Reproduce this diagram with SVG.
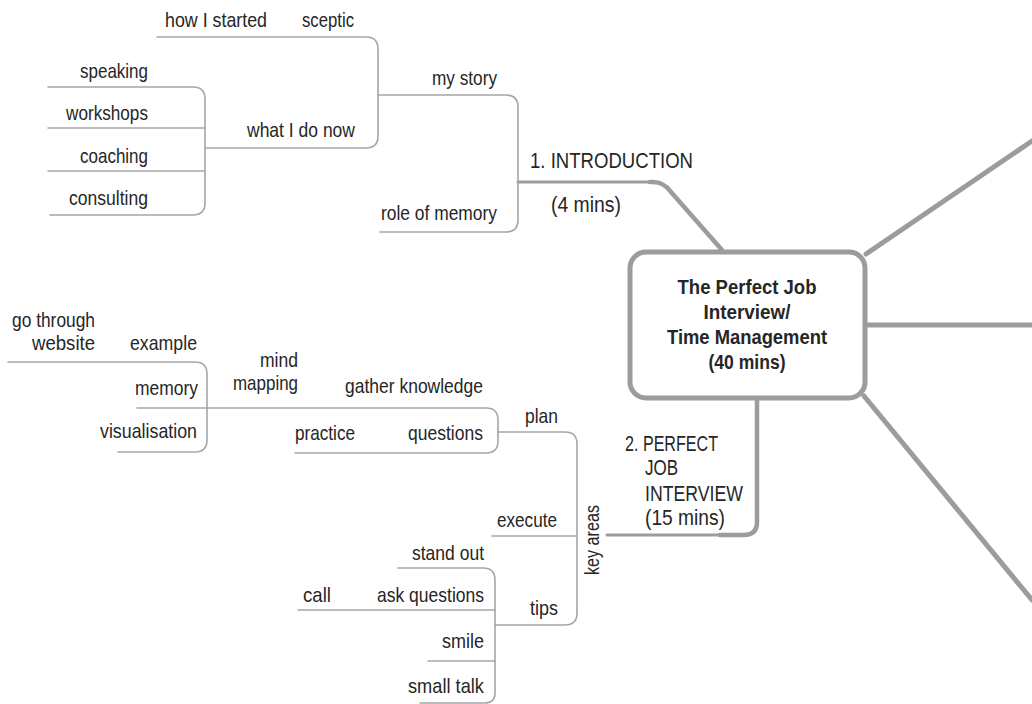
<svg xmlns="http://www.w3.org/2000/svg" width="1032" height="704" viewBox="0 0 1032 704">
<style>
text{font-family:"Liberation Sans",Arial,sans-serif;font-size:21px;fill:#262626}
.e{text-anchor:end}
.c{text-anchor:middle}
.b{font-weight:bold;font-size:21px}
.br{font-size:22px}
.thin{fill:none;stroke:#a6a6a6;stroke-width:1.6;stroke-linecap:round;stroke-linejoin:round}
.thick{fill:none;stroke:#9c9c9c;stroke-width:5;stroke-linecap:round;stroke-linejoin:round}
.mid{fill:none;stroke:#9c9c9c;stroke-width:3;stroke-linecap:round;stroke-linejoin:round}
</style>
<rect width="1032" height="704" fill="#ffffff"/>
<g id="connectors">
  <path class="mid" d="M518,182 H652"/>
  <path class="thick" style="stroke-width:4.5" d="M650,182 H653 Q664,182 671,192 L722,250"/>
  <path class="thick" d="M866,254 L1032,141"/>
  <path class="thick" d="M867,325 H1032"/>
  <path class="thick" d="M864,396 L1032,600"/>
  <path class="thick" style="stroke-width:4.5" d="M757,400 V522 Q757,535 744,535 H720"/>
  <path class="mid" d="M722,535 H607"/>
  <path class="thin" d="M380,232 H506 Q518,232 518,220 V107 Q518,95 506,95 H378"/>
  <path class="thin" d="M157,37 H366 Q378,37 378,49 V136 Q378,148 366,148 H205"/>
  <path class="thin" d="M48,87 H193 Q205,87 205,99 V203 Q205,215 193,215 H50"/>
  <path class="thin" d="M48,128 H205 M48,171 H205"/>
  <path class="thin" d="M8,362 H195 Q207,362 207,374 V440 Q207,452 195,452 H118"/>
  <path class="thin" d="M137,408 H486 Q498,408 498,420 V441 Q498,453 486,453 H295"/>
  <path class="thin" d="M498,432 H565 Q577,432 577,444 V613 Q577,625 565,625 H495"/>
  <path class="thin" d="M492,536 H577"/>
  <path class="thin" d="M398,568 H483 Q495,568 495,580 V693 Q495,703 485,703 H420"/>
  <path class="thin" d="M298,610 H495 M428,661 H495"/>
</g>
<g id="center">
  <rect x="630" y="252" width="235" height="146" rx="16" fill="#ffffff" stroke="#9c9c9c" stroke-width="5"/>
  <text class="b c" x="747" y="294" textLength="139" lengthAdjust="spacingAndGlyphs">The Perfect Job</text>
  <text class="b c" x="747" y="319" textLength="87" lengthAdjust="spacingAndGlyphs">Interview/</text>
  <text class="b c" x="747" y="344" textLength="160" lengthAdjust="spacingAndGlyphs">Time Management</text>
  <text class="b c" x="747" y="369" textLength="77" lengthAdjust="spacingAndGlyphs">(40 mins)</text>
</g>
<g id="introduction">
  <text class="br" x="530" y="168" textLength="163" lengthAdjust="spacingAndGlyphs">1. INTRODUCTION</text>
  <text class="br" x="551" y="212" textLength="70" lengthAdjust="spacingAndGlyphs">(4 mins)</text>
</g>
<g id="my-story"><text class="e" x="497" y="85" textLength="65" lengthAdjust="spacingAndGlyphs">my story</text></g>
<g id="role-of-memory"><text class="e" x="497" y="220" textLength="116" lengthAdjust="spacingAndGlyphs">role of memory</text></g>
<g id="how-i-started"><text class="e" x="267" y="27" textLength="102" lengthAdjust="spacingAndGlyphs">how I started</text></g>
<g id="sceptic"><text class="e" x="354" y="27" textLength="52" lengthAdjust="spacingAndGlyphs">sceptic</text></g>
<g id="what-i-do-now"><text class="e" x="355" y="137" textLength="108" lengthAdjust="spacingAndGlyphs">what I do now</text></g>
<g id="speaking"><text class="e" x="148" y="78" textLength="68" lengthAdjust="spacingAndGlyphs">speaking</text></g>
<g id="workshops"><text class="e" x="148" y="120" textLength="82" lengthAdjust="spacingAndGlyphs">workshops</text></g>
<g id="coaching"><text class="e" x="148" y="163" textLength="68" lengthAdjust="spacingAndGlyphs">coaching</text></g>
<g id="consulting"><text class="e" x="148" y="205" textLength="79" lengthAdjust="spacingAndGlyphs">consulting</text></g>
<g id="perfect-job-interview">
  <text class="br" x="625" y="451" textLength="93" lengthAdjust="spacingAndGlyphs">2. PERFECT</text>
  <text class="br" x="645" y="475" textLength="33" lengthAdjust="spacingAndGlyphs">JOB</text>
  <text class="br" x="645" y="501" textLength="98" lengthAdjust="spacingAndGlyphs">INTERVIEW</text>
  <text class="br" x="645" y="525" textLength="80" lengthAdjust="spacingAndGlyphs">(15 mins)</text>
</g>
<g id="key-areas"><text class="c" transform="translate(599,540) rotate(-90)" textLength="70" lengthAdjust="spacingAndGlyphs">key areas</text></g>
<g id="plan"><text class="e" x="558" y="423" textLength="33" lengthAdjust="spacingAndGlyphs">plan</text></g>
<g id="execute"><text class="e" x="557" y="527" textLength="60" lengthAdjust="spacingAndGlyphs">execute</text></g>
<g id="tips"><text class="e" x="558" y="615" textLength="28" lengthAdjust="spacingAndGlyphs">tips</text></g>
<g id="gather-knowledge"><text class="e" x="483" y="393" textLength="138" lengthAdjust="spacingAndGlyphs">gather knowledge</text></g>
<g id="questions"><text class="e" x="483" y="440" textLength="75" lengthAdjust="spacingAndGlyphs">questions</text></g>
<g id="practice"><text x="295" y="440" textLength="60" lengthAdjust="spacingAndGlyphs">practice</text></g>
<g id="mind-mapping">
  <text class="e" x="298" y="367" textLength="38" lengthAdjust="spacingAndGlyphs">mind</text>
  <text class="e" x="298" y="390" textLength="65" lengthAdjust="spacingAndGlyphs">mapping</text>
</g>
<g id="example"><text class="e" x="197" y="350" textLength="67" lengthAdjust="spacingAndGlyphs">example</text></g>
<g id="go-through-website">
  <text class="e" x="95" y="327" textLength="83" lengthAdjust="spacingAndGlyphs">go through</text>
  <text class="e" x="95" y="350" textLength="63" lengthAdjust="spacingAndGlyphs">website</text>
</g>
<g id="memory"><text class="e" x="198" y="395" textLength="63" lengthAdjust="spacingAndGlyphs">memory</text></g>
<g id="visualisation"><text class="e" x="197" y="438" textLength="97" lengthAdjust="spacingAndGlyphs">visualisation</text></g>
<g id="stand-out"><text class="e" x="484" y="560" textLength="72" lengthAdjust="spacingAndGlyphs">stand out</text></g>
<g id="ask-questions"><text class="e" x="484" y="602" textLength="107" lengthAdjust="spacingAndGlyphs">ask questions</text></g>
<g id="call"><text x="303" y="602" textLength="28" lengthAdjust="spacingAndGlyphs">call</text></g>
<g id="smile"><text class="e" x="484" y="648" textLength="42" lengthAdjust="spacingAndGlyphs">smile</text></g>
<g id="small-talk"><text class="e" x="484" y="693" textLength="76" lengthAdjust="spacingAndGlyphs">small talk</text></g>
</svg>
